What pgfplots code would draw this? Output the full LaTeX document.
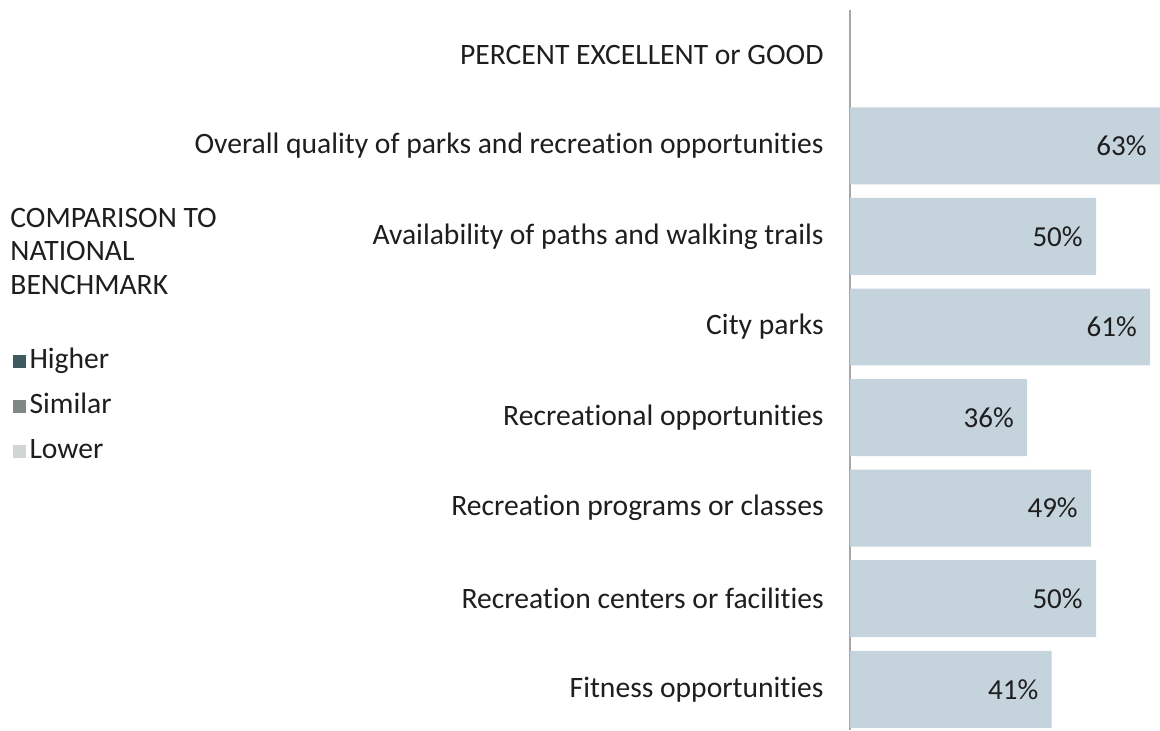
\documentclass[border=0pt]{standalone}
\usepackage{pgfplots}
\pgfplotsset{compat=1.18}
\usepackage{fontspec}
\setmainfont[Ligatures=NoCommon]{Carlito}
\definecolor{barc}{HTML}{C5D3DD}
\definecolor{higher}{HTML}{3F5A5E}
\definecolor{similar}{HTML}{7F8787}
\definecolor{lower}{HTML}{D2D5D6}
\definecolor{txt}{HTML}{1E1E1E}
\pgfplotstableread{
y val
1 63
2 50
3 61
4 36
5 49
6 50
7 41
}\datatab
\begin{document}
\begin{tikzpicture}
\useasboundingbox (0pt,0pt) rectangle (580pt,365pt);
\begin{axis}[
  at={(425pt,0pt)}, anchor=south west,
  scale only axis, width=155pt, height=360pt,
  xmin=0, xmax=63, ymin=-0.5, ymax=7.45,
  y dir=reverse,
  axis x line=none,
  axis y line*=left,
  y axis line style={draw=gray!70, line width=0.8pt, -},
  ytick={0,...,7},
  yticklabels={PERCENT EXCELLENT or GOOD,
    Overall quality of parks and recreation opportunities,
    Availability of paths and walking trails,
    City parks,
    Recreational opportunities,
    Recreation programs or classes,
    Recreation centers or facilities,
    Fitness opportunities},
  major tick length=0pt,
  /pgf/number format/assume math mode=true,
  yticklabel style={font=\fontsize{14.8}{17}\selectfont, text=txt, anchor=east, inner sep=0pt, xshift=-13pt},
  clip=false,
  legend cell align=left,
  legend style={at={(axis description cs:-2.703,0.531)}, anchor=north west, draw=none, fill=none,
    font=\fontsize{14.8}{17}\selectfont, text=txt, row sep=9.5pt, column sep=2pt, inner sep=0pt,
    nodes={inner sep=0pt, text height=10pt, text depth=3pt}},
  legend image code/.code={\fill[#1] (0pt,-3.25pt) rectangle (6.5pt,3.25pt);},
]
\addlegendimage{fill=higher, draw=none}
\addlegendentry{Higher}
\addlegendimage{fill=similar, draw=none}
\addlegendentry{Similar}
\addlegendimage{fill=lower, draw=none}
\addlegendentry{Lower}
\addplot[xbar, bar width=0.85, fill=barc, draw=none, bar shift=0pt,
  nodes near coords={\pgfmathprintnumber{\pgfplotspointmeta}\%},
  point meta=x,
  every node near coord/.append style={anchor=east, xshift=-6.5pt, font=\fontsize{14.5}{17}\selectfont, text=txt, inner sep=0pt},
  forget plot] table[x=val, y=y] {\datatab};
\end{axis}
\node[anchor=base west, align=left, font=\fontsize{14.8}{16.75}\selectfont, text=txt, inner sep=0pt] at (5pt,218pt) {COMPARISON TO\\NATIONAL\\BENCHMARK};
\end{tikzpicture}
\end{document}
